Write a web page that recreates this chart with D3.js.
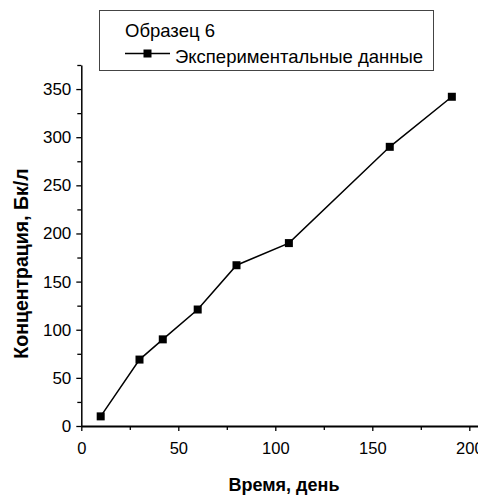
<!DOCTYPE html>
<html>
<head>
<meta charset="utf-8">
<script src="https://cdn.jsdelivr.net/npm/d3@7"></script>
<style>
    body { margin: 0; background: #fff; }
    svg { display: block; font-family: "Liberation Sans", Arial, sans-serif; }
</style>
</head>
<body>
<div id="chart"></div>
<script>
// data
const days = [10, 30, 42, 60, 80, 107, 159, 191]
const concentration = [10, 69, 90, 121, 167, 190, 290, 342]
const xTicks = [0, 50, 100, 150, 200]
const xMinor = [25, 75, 125, 175]
const yTicks = [0, 50, 100, 150, 200, 250, 300, 350]
const yMinor = [25, 75, 125, 175, 225, 275, 325, 375]

var width = 478,
    height = 496;
const margin = ({ top: 65, left: 81.3, bottom: 70 })

var svg = d3.select("#chart").append("svg")
    .attr("width", width)
    .attr("height", height)

// scales (x axis runs past the right edge, like the cropped original)
var x = d3.scaleLinear()
    .domain([0, 210])
    .range([margin.left, margin.left + 210 * 1.94])
var y = d3.scaleLinear()
    .domain([0, 375])
    .range([height - margin.bottom, margin.top])

// minor ticks first
svg.append("g")
    .attr("transform", `translate(0,${y(0)})`)
    .call(d3.axisBottom(x).tickValues(xMinor).tickSize(4).tickFormat(""))
    .call(g => g.select(".domain").remove())
    .call(g => g.selectAll(".tick line").attr("stroke-width", 1.3))
svg.append("g")
    .attr("transform", `translate(${x(0)},0)`)
    .call(d3.axisLeft(y).tickValues(yMinor).tickSize(4).tickFormat(""))
    .call(g => g.select(".domain").remove())
    .call(g => g.selectAll(".tick line").attr("stroke-width", 1.3))

// main axes
svg.append("g")
    .attr("transform", `translate(0,${y(0)})`)
    .call(d3.axisBottom(x).tickValues(xTicks).tickSize(5).tickSizeOuter(0).tickPadding(11))
    .call(g => g.select(".domain").attr("stroke-width", 2))
    .call(g => g.selectAll(".tick line").attr("stroke-width", 1.3))
    .call(g => g.selectAll(".tick text").style("font-size", "16.5px").attr("fill", "#000"))

svg.append("g")
    .attr("transform", `translate(${x(0)},0)`)
    .call(d3.axisLeft(y).tickValues(yTicks).tickSize(5).tickSizeOuter(0).tickPadding(5))
    .call(g => g.select(".domain").attr("stroke-width", 1.5))
    .call(g => g.selectAll(".tick line").attr("stroke-width", 1.3))
    .call(g => g.selectAll(".tick text").style("font-size", "17px").attr("fill", "#000"))

// axis titles
svg.append("text")
    .attr("x", 284)
    .attr("y", 491)
    .attr("text-anchor", "middle")
    .style("font-weight", "bold")
    .style("font-size", "18px")
    .text("Время, день")

svg.append("text")
    .attr("transform", `translate(28,263.5) rotate(-90)`)
    .attr("text-anchor", "middle")
    .style("font-weight", "bold")
    .style("font-size", "19.5px")
    .text("Концентрация, Бк/л")

// data line + markers
const points = days.map((d, i) => [d, concentration[i]])
svg.append("path")
    .datum(points)
    .attr("fill", "none")
    .attr("stroke", "#000")
    .attr("stroke-width", 1.5)
    .attr("d", d3.line().x(d => x(d[0])).y(d => y(d[1])))

svg.selectAll(".pt")
    .data(points)
    .enter()
    .append("rect")
    .attr("class", "pt")
    .attr("x", d => x(d[0]) - 4)
    .attr("y", d => y(d[1]) - 4)
    .attr("width", 8)
    .attr("height", 8)
    .attr("fill", "#000")

// legend
var legend = svg.append("g")
legend.append("rect")
    .attr("x", 99.5)
    .attr("y", 10.5)
    .attr("width", 334)
    .attr("height", 60)
    .attr("fill", "#fff")
    .attr("stroke", "#444")
    .attr("stroke-width", 1)
legend.append("text")
    .attr("x", 125)
    .attr("y", 36.5)
    .style("font-size", "18.5px")
    .text("Образец 6")
legend.append("line")
    .attr("x1", 125)
    .attr("x2", 170)
    .attr("y1", 53.5)
    .attr("y2", 53.5)
    .attr("stroke", "#000")
    .attr("stroke-width", 1.5)
legend.append("rect")
    .attr("x", 143.5)
    .attr("y", 49.5)
    .attr("width", 8)
    .attr("height", 8)
    .attr("fill", "#000")
legend.append("text")
    .attr("x", 175)
    .attr("y", 62.5)
    .style("font-size", "18.5px")
    .text("Экспериментальные данные")
</script>
</body>
</html>
